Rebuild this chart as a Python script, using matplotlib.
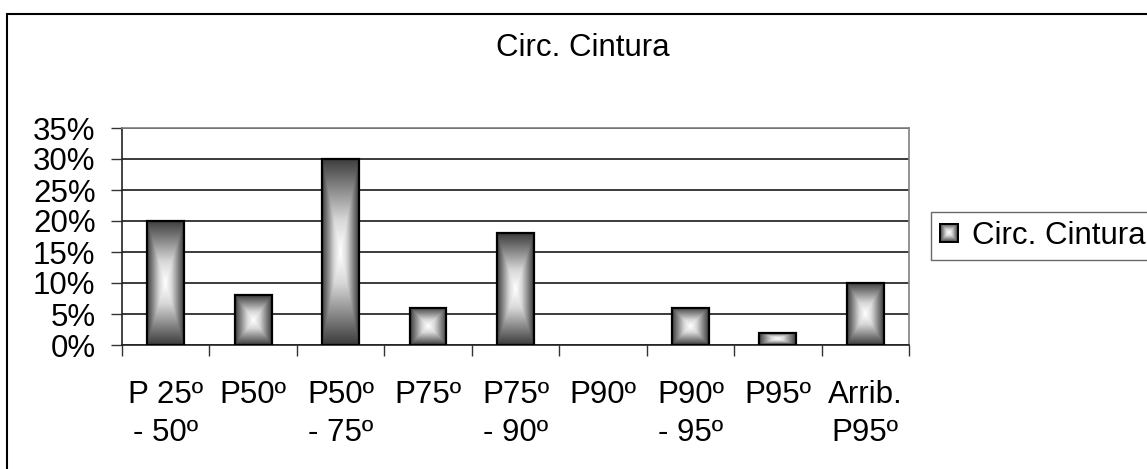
import numpy as np
import matplotlib
matplotlib.use('Agg')
import matplotlib.pyplot as plt
from matplotlib.colors import LinearSegmentedColormap
from matplotlib.patches import Rectangle
from matplotlib.ticker import FuncFormatter, FixedLocator

plt.rcParams['font.family'] = ['Liberation Sans', 'DejaVu Sans']

# data
categories = ['P 25º\n- 50º', 'P50º', 'P50º\n- 75º', 'P75º', 'P75º\n- 90º',
              'P90º', 'P90º\n- 95º', 'P95º', 'Arrib.\nP95º']
values = [0.20, 0.08, 0.30, 0.06, 0.18, 0.00, 0.06, 0.02, 0.10]
series_name = 'Circ. Cintura'
chart_title = 'Circ. Cintura'

W, H = 1147, 469
FS = 22.5
fig = plt.figure(figsize=(W / 100, H / 100), dpi=100)
ax = fig.add_axes([122 / W, 1 - 345 / H, (909 - 122) / W, (345 - 128) / H])

# "from center" gradient: dark edges, white middle
cmap = LinearSegmentedColormap.from_list('g', ['#ffffff', '#d8d8d8', '#8a8a8a', '#3c3c3c'])
n = 200
u = np.linspace(-1, 1, n)
uu, vv = np.meshgrid(u, u)
grad = np.maximum(np.abs(uu), np.abs(vv))

bar_w = 0.42
x = np.arange(len(categories))
for xi, v in zip(x, values):
    if v <= 0:
        continue
    ax.imshow(grad, cmap=cmap, extent=(xi - bar_w / 2, xi + bar_w / 2, 0, v),
              aspect='auto', interpolation='bilinear', zorder=3)
    ax.add_patch(Rectangle((xi - bar_w / 2, 0), bar_w, v, fill=False,
                           edgecolor='black', linewidth=1.6, zorder=4))

ax.set_xlim(-0.5, len(categories) - 0.5)
ax.set_ylim(0, 0.35)
ax.set_yticks(np.arange(0, 0.351, 0.05))
ax.yaxis.set_major_formatter(FuncFormatter(lambda y, p: f'{y * 100:.0f}%'))
ax.grid(axis='y', color='#1a1a1a', linewidth=1.2, zorder=1)
ax.set_axisbelow(True)

ax.xaxis.set_major_locator(FixedLocator(np.arange(-0.5, len(categories))))
ax.xaxis.set_major_formatter(FuncFormatter(lambda v, p: ''))
ax.set_xticks(x, minor=True)
ax.set_xticklabels(categories, minor=True, fontsize=FS, linespacing=1.36)
ax.tick_params(axis='x', which='minor', length=0, pad=25)
ax.tick_params(axis='x', which='major', length=8, width=1, color='#333333', direction='out')
ax.tick_params(axis='y', length=8, width=1, color='#333333', labelsize=FS, pad=11)

for s in ['top', 'right']:
    ax.spines[s].set_color('#808080')
    ax.spines[s].set_linewidth(1.2)
for s in ['left', 'bottom']:
    ax.spines[s].set_color('#222222')
    ax.spines[s].set_linewidth(1.2)

fig.text(583 / W, 1 - 48 / H, chart_title, ha='center', va='center', fontsize=FS)

# legend
proxy = Rectangle((0, 0), 1, 1, facecolor='none', edgecolor='black', linewidth=1.4)
leg = fig.legend([proxy], [series_name], loc='center left',
                 bbox_to_anchor=(931 / W, 1 - 236 / H), fontsize=FS, frameon=True,
                 fancybox=False, handlelength=0.55, handleheight=0.55, handletextpad=0.45,
                 borderpad=0.3, borderaxespad=0)
leg.get_frame().set_edgecolor('#444444')
leg.get_frame().set_linewidth(1.0)

# gradient inside the legend swatch
fig.canvas.draw()
hb = leg.legend_handles[0].get_window_extent()
sw = fig.add_axes([hb.x0 / W, hb.y0 / H, hb.width / W, hb.height / H], zorder=10)
sw.imshow(grad, cmap=cmap, aspect='auto', interpolation='bilinear')
for s in sw.spines.values():
    s.set_color('black')
    s.set_linewidth(1.4)
sw.set_xticks([])
sw.set_yticks([])

# outer chart border
fig.add_artist(Rectangle((7 / W, -0.1), 1.2, 1 - 14 / H + 0.1, transform=fig.transFigure,
                         fill=False, edgecolor='black', linewidth=1.5))

fig.savefig('out.png', dpi=100)
